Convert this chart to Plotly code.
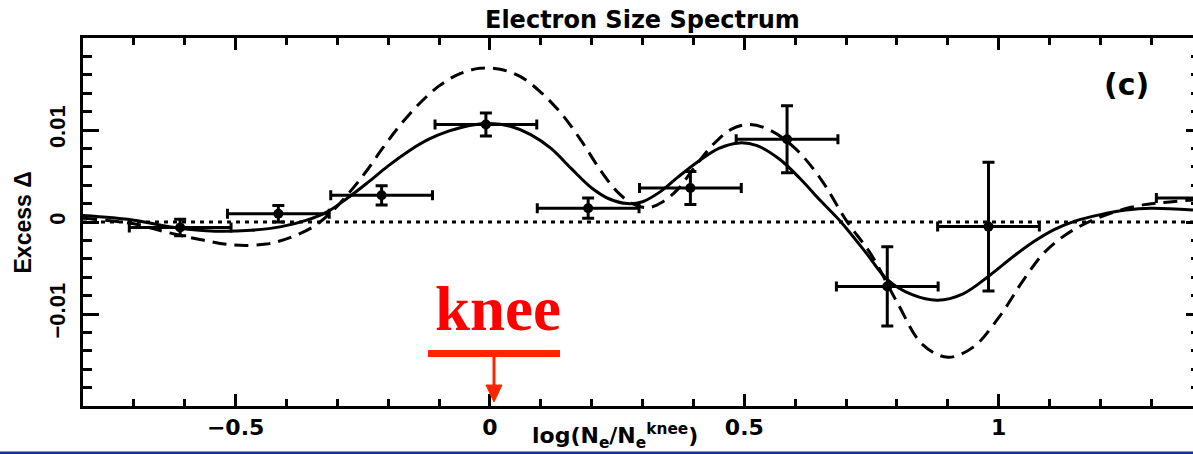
import plotly.graph_objects as go

# ---- measured excess per bin of log(Ne / Ne_knee) ----
bin_x = [-0.609, -0.416, -0.213, -0.008, 0.193, 0.394, 0.584, 0.781, 0.980, 1.41]
bin_dx = [0.1, 0.1, 0.1, 0.1, 0.1, 0.1, 0.1, 0.1, 0.1, 0.1]
excess = [-0.0006, 0.0009, 0.0029, 0.0106, 0.0015, 0.0037, 0.0090, -0.0070, -0.0005, 0.0026]
excess_err = [0.0009, 0.0009, 0.00105, 0.00124, 0.0011, 0.0018, 0.00364, 0.0043, 0.0070, 0.0020]

# ---- fitted model (solid) ----
fit_x = [-0.80, -0.70, -0.62, -0.54, -0.47, -0.41, -0.36, -0.32, -0.28, -0.24,
         -0.20, -0.16, -0.12, -0.08, -0.04, 0.00, 0.04, 0.08, 0.12, 0.16,
         0.20, 0.235, 0.27, 0.30, 0.335, 0.37, 0.41, 0.45, 0.49, 0.525,
         0.57, 0.61, 0.65, 0.69, 0.74, 0.78, 0.83, 0.88, 0.93, 0.98,
         1.03, 1.07, 1.11, 1.15, 1.20, 1.25, 1.30, 1.382]
fit_y = [0.0007, 0.0002, -0.0006, -0.0010, -0.0009, -0.0005, 0.0002, 0.0011, 0.0026, 0.0043,
         0.0061, 0.0077, 0.0090, 0.0099, 0.0105, 0.0107, 0.0104, 0.0095, 0.0080, 0.0058,
         0.0037, 0.0025, 0.0020, 0.0022, 0.0033, 0.0049, 0.0066, 0.0080, 0.0086, 0.0083,
         0.0068, 0.0047, 0.0023, 0.0000, -0.0034, -0.0062, -0.0079, -0.0085, -0.0078, -0.0059,
         -0.0037, -0.0021, -0.0008, 0.0001, 0.0008, 0.0013, 0.0015, 0.0013]

# ---- alternative model (dashed) ----
alt_x = [-0.80, -0.70, -0.636, -0.57, -0.505, -0.44, -0.393, -0.347, -0.315, -0.275,
         -0.242, -0.21, -0.177, -0.14, -0.10, -0.06, -0.02, 0.02, 0.06, 0.10,
         0.14, 0.18, 0.215, 0.25, 0.28, 0.31, 0.34, 0.37, 0.40, 0.44,
         0.475, 0.51, 0.55, 0.60, 0.65, 0.70, 0.75, 0.80, 0.85, 0.90,
         0.95, 1.00, 1.05, 1.09, 1.134, 1.185, 1.26, 1.32, 1.382]
alt_y = [0.0004, -0.0002, -0.0011, -0.0019, -0.0025, -0.0024, -0.0017, -0.0005, 0.0009, 0.0033,
         0.0056, 0.0081, 0.0105, 0.0128, 0.0148, 0.0161, 0.0167, 0.0166, 0.0158, 0.0141,
         0.0118, 0.0088, 0.0058, 0.0033, 0.0020, 0.00155, 0.0022, 0.0036, 0.0058, 0.0085,
         0.0101, 0.0106, 0.0100, 0.0080, 0.0047, 0.0002, -0.0036, -0.0087, -0.0133, -0.0147,
         -0.0136, -0.0104, -0.0062, -0.0033, -0.0013, 0.0002, 0.0016, 0.0021, 0.0024]

X_RANGE = [-0.8, 1.382]
Y_RANGE = [-0.02, 0.02]
X_TICKS = [-0.5, 0, 0.5, 1]
X_TICK_TEXT = ["\u22120.5", "0", "0.5", "1"]
Y_TICKS = [-0.01, 0, 0.01]
Y_TICK_TEXT = ["\u22120.01", "0", "0.01"]

W, H = 1193, 454
L, R, T, B = 83, 0, 38, 48
PW, PH = W - L - R, H - T - B


def px(p):
    """page pixel column -> paper x"""
    return (p - L) / PW


def py(p):
    """page pixel row -> paper y"""
    return (H - B - p) / PH


BOLD = "DejaVu Sans"
ARIAL = "Liberation Sans"

fig = go.Figure()

fig.add_trace(go.Scatter(
    x=alt_x, y=alt_y, mode="lines",
    line=dict(color="black", width=3, dash="14px,8px", shape="spline", smoothing=1.0),
    hoverinfo="skip", showlegend=False))

fig.add_trace(go.Scatter(
    x=fit_x, y=fit_y, mode="lines",
    line=dict(color="black", width=3, shape="spline", smoothing=1.0),
    hoverinfo="skip", showlegend=False))

fig.add_trace(go.Scatter(
    x=bin_x, y=excess, mode="markers",
    marker=dict(color="black", size=10),
    error_x=dict(type="data", array=bin_dx, color="black", thickness=3, width=5),
    error_y=dict(type="data", array=excess_err, color="black", thickness=3, width=6),
    showlegend=False))

# right-hand frame ticks
fig.add_trace(go.Scatter(x=[None], y=[None], yaxis="y2", showlegend=False, hoverinfo="skip"))

# zero reference
fig.add_shape(type="line", xref="paper", x0=0, x1=1, yref="y", y0=0, y1=0,
              line=dict(color="black", width=3, dash="4px,5px"), layer="below")

# knee marker: label, underline and arrow down to the axis
knee_col = "#ff2400"
fig.add_shape(type="line", xref="paper", yref="paper", x0=px(428), x1=px(560), y0=py(353.5), y1=py(353.5),
              line=dict(color=knee_col, width=7))
fig.add_shape(type="line", xref="paper", yref="paper", x0=px(494), x1=px(494), y0=py(357), y1=py(387),
              line=dict(color=knee_col, width=3))
fig.add_shape(type="path", xref="paper", yref="paper",
              path=f"M {px(486)},{py(385)} L {px(502)},{py(385)} L {px(494)},{py(402)} Z",
              fillcolor=knee_col, line=dict(color=knee_col, width=1))

# slide rule at the bottom
fig.add_shape(type="rect", xref="paper", yref="paper", x0=px(0), x1=px(W), y0=py(H), y1=py(451.5),
              fillcolor="#1a2f96", line=dict(width=0))

ann = [
    dict(text="<b>Electron Size Spectrum</b>", x=px(642), y=py(20), xanchor="center", yanchor="middle",
         font=dict(family=BOLD, size=24, color="black")),
    dict(text="<b>(c)</b>", x=px(1126), y=py(85), xanchor="center", yanchor="middle",
         font=dict(family=BOLD, size=30, color="black")),
    dict(text="<b>Excess Δ</b>", x=px(23), y=py(222.5), xanchor="center", yanchor="middle", textangle=-90,
         font=dict(family=ARIAL, size=23, color="black")),
    dict(text="<b>log(N<sub>e</sub>/N<sub>e</sub><sup>knee</sup>)</b>", x=px(615), y=py(436),
         xanchor="center", yanchor="middle", font=dict(family=BOLD, size=22, color="black")),
    dict(text="<b>knee</b>", x=px(498), y=py(346), xanchor="center", yanchor="bottom",
         font=dict(family="Liberation Serif", size=63, color="#ff0000")),
]
for a in ann:
    fig.add_annotation(xref="paper", yref="paper", showarrow=False, **a)

fig.update_layout(
    width=W, height=H,
    margin=dict(l=L, r=R, t=T, b=B, pad=0),
    paper_bgcolor="white", plot_bgcolor="white",
    xaxis=dict(range=X_RANGE, showgrid=False, zeroline=False,
               showline=True, linecolor="black", linewidth=3, mirror="ticks",
               ticks="inside", ticklen=12, tickwidth=3, tickcolor="black",
               tickmode="array", tickvals=X_TICKS, ticktext=X_TICK_TEXT, ticklabelstandoff=0,
               tickfont=dict(family=BOLD, size=22, color="black", weight="bold"),
               minor=dict(ticks="inside", ticklen=7, tickwidth=3, tickcolor="black",
                          tickmode="linear", tick0=0, dtick=0.1)),
    yaxis=dict(range=Y_RANGE, showgrid=False, zeroline=False,
               showline=True, linecolor="black", linewidth=3, mirror=False,
               ticks="inside", ticklen=16, tickwidth=3, tickcolor="black",
               tickmode="array", tickvals=Y_TICKS, ticktext=Y_TICK_TEXT, tickangle=-90,
               ticklabelstandoff=6,
               tickfont=dict(family=ARIAL, size=22, color="black", weight="bold"),
               minor=dict(ticks="inside", ticklen=9, tickwidth=3, tickcolor="black",
                          tickmode="linear", tick0=0, dtick=0.002)),
    yaxis2=dict(range=Y_RANGE, overlaying="y", side="right", anchor="x", showgrid=False, zeroline=False,
                showline=False, showticklabels=False,
                ticks="inside", ticklen=7, tickwidth=3, tickcolor="black",
                tickmode="array", tickvals=Y_TICKS,
                minor=dict(ticks="inside", ticklen=2, tickwidth=3, tickcolor="black",
                           tickmode="linear", tick0=0, dtick=0.002)),
)

fig.write_html("out.html")
